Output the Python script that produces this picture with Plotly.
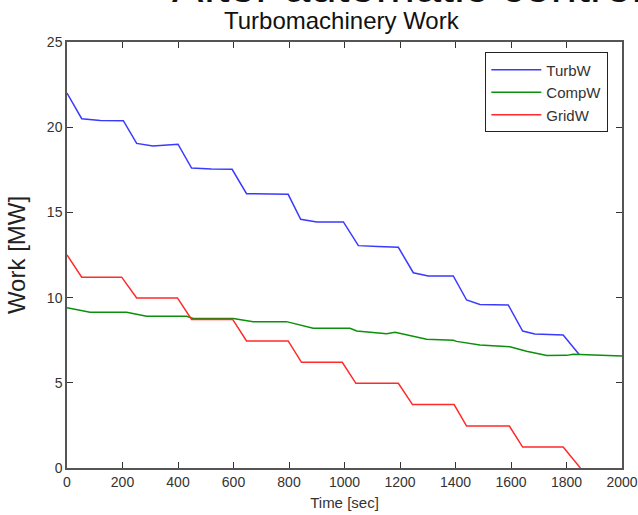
import plotly.graph_objects as go

# TurbW (blue)
turb_t = [0, 53, 120, 203, 251, 310, 400, 449, 520, 595, 647, 700, 797, 842, 900, 996,
          1050, 1120, 1194, 1248, 1302, 1392, 1440, 1488, 1590, 1642, 1686, 1788, 1845]
turb_w = [22.0, 20.5, 20.4, 20.38, 19.05, 18.9, 19.0, 17.6, 17.55, 17.53, 16.1, 16.08, 16.06,
          14.6, 14.44, 14.44, 13.05, 13.0, 12.95, 11.46, 11.27, 11.27, 9.86, 9.6, 9.57,
          8.04, 7.86, 7.8, 6.67]

# CompW (green)
comp_t = [0, 83, 215, 287, 431, 455, 599, 671, 791, 887, 1020, 1044, 1152, 1182, 1296,
          1392, 1404, 1488, 1596, 1656, 1729, 1801, 1824, 2000]
comp_w = [9.4, 9.14, 9.14, 8.9, 8.9, 8.78, 8.78, 8.59, 8.59, 8.2, 8.2, 8.04, 7.88, 7.96,
          7.55, 7.5, 7.43, 7.22, 7.12, 6.85, 6.6, 6.61, 6.67, 6.57]

# GridW (red)
grid_t = [0, 53, 197, 251, 398, 449, 597, 647, 797, 845, 992, 1041, 1194, 1245, 1395,
          1440, 1594, 1642, 1788, 1850]
grid_w = [12.5, 11.2, 11.2, 9.98, 9.98, 8.72, 8.72, 7.46, 7.46, 6.2, 6.2, 4.97, 4.97,
          3.72, 3.72, 2.46, 2.46, 1.23, 1.23, 0.0]

x_ticks = [0, 200, 400, 600, 800, 1000, 1200, 1400, 1600, 1800, 2000]
y_ticks = [0, 5, 10, 15, 20, 25]

tick_font = dict(family="Liberation Sans, Arial", size=14, color="#333")

fig = go.Figure()
fig.add_trace(go.Scatter(x=turb_t, y=turb_w, mode="lines", name="TurbW",
                         line=dict(color="#3a3aff", width=1.5)))
fig.add_trace(go.Scatter(x=comp_t, y=comp_w, mode="lines", name="CompW",
                         line=dict(color="#0a900a", width=1.5)))
fig.add_trace(go.Scatter(x=grid_t, y=grid_w, mode="lines", name="GridW",
                         line=dict(color="#ff2a2a", width=1.5)))

axis_common = dict(showgrid=False, zeroline=False, showline=True, linecolor="#555",
                   linewidth=1.5, mirror="ticks", ticks="inside", ticklen=6,
                   tickcolor="#333", tickwidth=1, tickfont=tick_font, automargin=False,
                   ticklabeloverflow="allow")

fig.update_layout(
    width=638, height=515,
    margin=dict(l=67, r=16, t=42, b=47, autoexpand=False),
    paper_bgcolor="white", plot_bgcolor="white",
    title=dict(text="Turbomachinery Work", x=0.535, xanchor="center",
               yref="container", y=0.976, yanchor="top",
               font=dict(family="Liberation Sans, Arial", size=24, color="#111")),
    xaxis=dict(range=[0, 2000], tickvals=x_ticks,
               title=dict(text="Time [sec]", standoff=9,
                          font=dict(family="Liberation Sans, Arial", size=15, color="#333")),
               **axis_common),
    yaxis=dict(range=[0, 25], tickvals=y_ticks,
               title=dict(text="Work [MW]", standoff=14,
                          font=dict(family="Liberation Sans, Arial", size=24, color="#222")),
               **axis_common),
    legend=dict(x=0.975, y=0.976, xanchor="right", yanchor="top",
                bgcolor="white", bordercolor="#222", borderwidth=1.2,
                font=dict(family="Liberation Sans, Arial", size=15, color="#333"),
                tracegroupgap=0, itemwidth=50),
    showlegend=True,
)

fig.add_annotation(text="After automatic control", xref="paper", yref="paper",
                   x=0.186, xanchor="left", y=1.066, yanchor="bottom", showarrow=False,
                   font=dict(family="Liberation Sans, Arial", size=47, color="#111"))

fig.write_html("out.html", config={"displayModeBar": False},
               post_script="document.body.style.margin='0';document.body.style.padding='0';")
